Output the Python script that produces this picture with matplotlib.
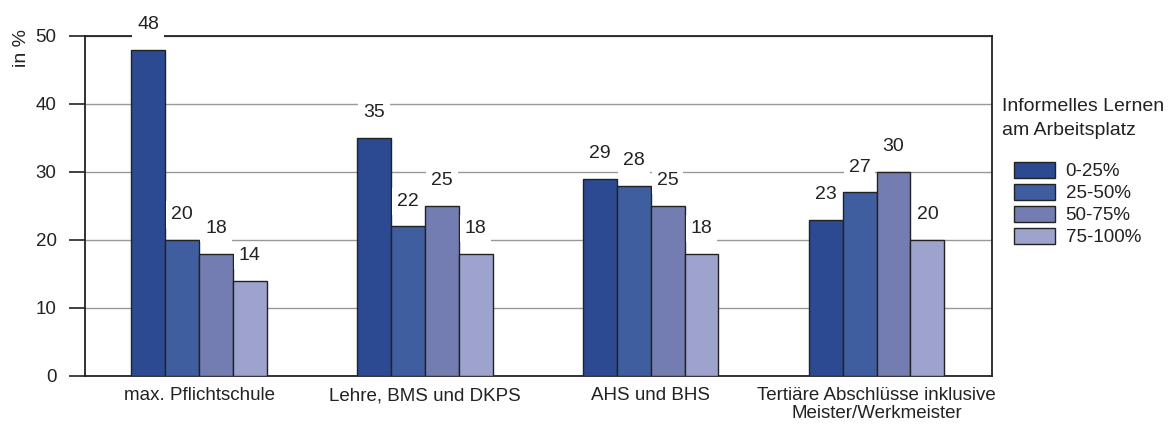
import numpy as np
import matplotlib.pyplot as plt
from matplotlib.patches import Patch

plt.rcParams['font.family'] = ['Liberation Sans', 'DejaVu Sans']

categories = ['max. Pflichtschule', 'Lehre, BMS und DKPS', 'AHS und BHS',
              'Tertiäre Abschlüsse inklusive\nMeister/Werkmeister']
series = ['0-25%', '25-50%', '50-75%', '75-100%']
values = [
    [48, 35, 29, 23],
    [20, 22, 28, 27],
    [18, 25, 25, 30],
    [14, 18, 18, 20],
]
colors = ['#2c4a91', '#3f5e9f', '#737db1', '#9ea3cd']

fig = plt.figure(figsize=(11.68, 4.25), dpi=100)
ax = fig.add_axes([0.0728, 0.1153, 0.7763, 0.80])

x = np.arange(len(categories))
w = 0.15
for i, (s, vals, c) in enumerate(zip(series, values, colors)):
    pos = x + (i - 1.5) * w
    ax.bar(pos, vals, width=w, color=c, edgecolor='#222222', linewidth=1.0,
           zorder=3, label=s)
    for p, v in zip(pos, vals):
        ax.text(p, v + 3.7, str(v), ha='center', va='center', fontsize=14,
                color='#222222', zorder=4,
                bbox=dict(facecolor='white', edgecolor='none', pad=3.5))

ax.set_xlim(-0.505, 3.51)
ax.set_ylim(0, 50)
ax.set_yticks([0, 10, 20, 30, 40, 50])
ax.yaxis.grid(True, color='#999999', linewidth=1.0, zorder=0)
ax.set_axisbelow(True)
ax.set_xticks(x)
ax.set_xticklabels(categories, fontsize=13.5, linespacing=1.1)
ax.tick_params(axis='x', length=0, pad=8, colors='#222222')
ax.tick_params(axis='y', direction='out', length=11.5, width=1.2, labelsize=13.5,
               colors='#222222', pad=9)
for sp in ax.spines.values():
    sp.set_color('#222222')
    sp.set_linewidth(1.3)

fig.text(0.018, 1 - 29 / 425, 'in %', rotation=90, ha='center', va='top', fontsize=14,
         color='#222222')

fig.text(1002 / 1168, 1 - 98 / 425, 'Informelles Lernen\nam Arbeitsplatz',
         ha='left', va='top', fontsize=14, color='#222222', linespacing=1.55)
handles = [Patch(facecolor=c, edgecolor='#222222', label=s) for s, c in zip(series, colors)]
leg = fig.legend(handles=handles, loc='upper left',
                 bbox_to_anchor=(1014 / 1168, 1 - 162 / 425), frameon=False,
                 fontsize=13.5, handlelength=2.2, handleheight=0.9,
                 labelspacing=0.2, handletextpad=0.55, borderaxespad=0,
                 borderpad=0)
for t in leg.get_texts():
    t.set_color('#222222')

fig.savefig('out.png', dpi=100)
